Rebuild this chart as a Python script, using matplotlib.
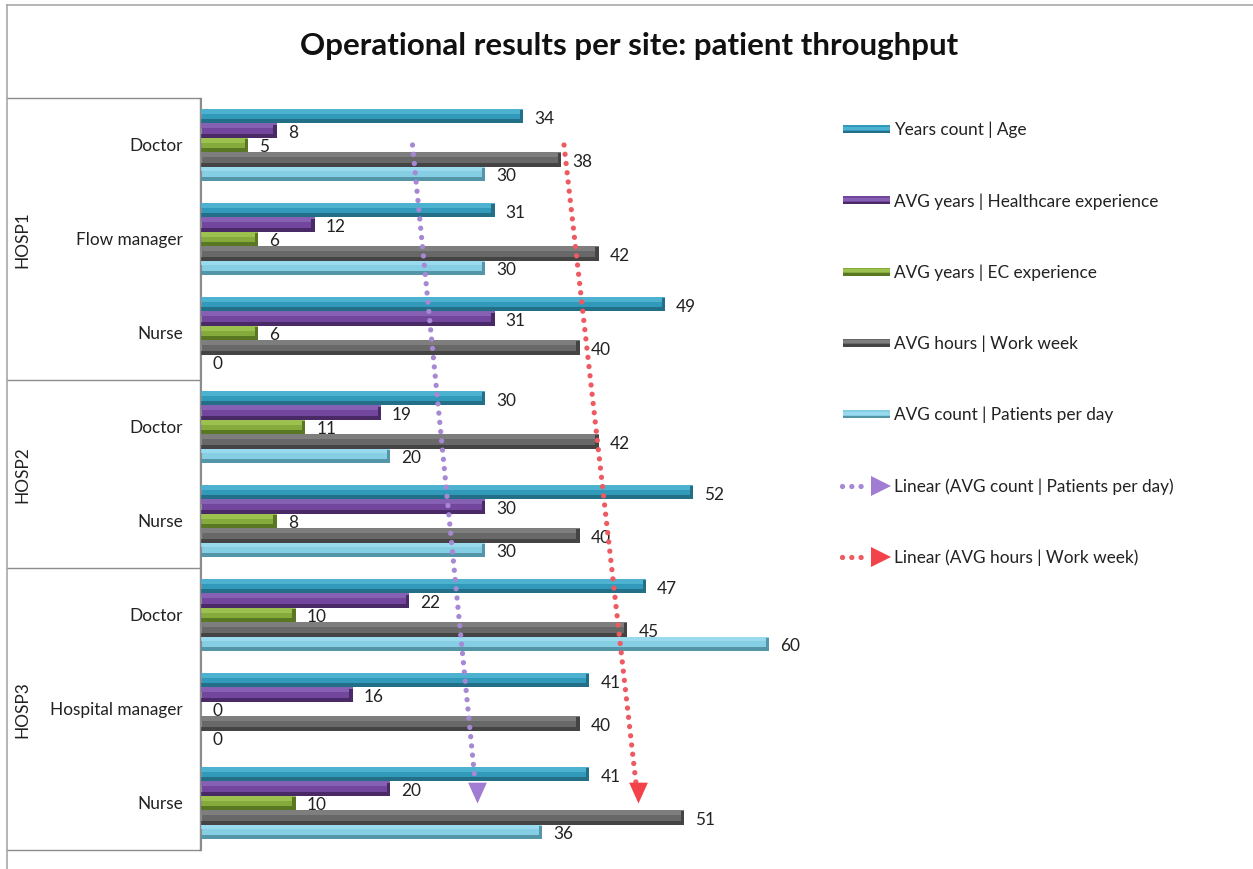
import matplotlib
matplotlib.use("Agg")
import matplotlib.pyplot as plt
import matplotlib.transforms as mtransforms
from matplotlib.lines import Line2D
from matplotlib.patches import Rectangle
import numpy as np

plt.rcParams['font.family'] = ['Lato', 'DejaVu Sans']

# data, top to bottom as in the chart
sites = ["HOSP1", "HOSP1", "HOSP1", "HOSP2", "HOSP2", "HOSP3", "HOSP3", "HOSP3"]
roles = ["Doctor", "Flow manager", "Nurse", "Doctor", "Nurse",
         "Doctor", "Hospital manager", "Nurse"]
age = [34, 31, 49, 30, 52, 47, 41, 41]
healthcare_exp = [8, 12, 31, 19, 30, 22, 16, 20]
ec_exp = [5, 6, 6, 11, 8, 10, 0, 10]
work_week = [38, 42, 40, 42, 40, 45, 40, 51]
patients_day = [30, 30, 0, 20, 30, 60, 0, 36]

series_names = ["Years count | Age", "AVG years | Healthcare experience",
                "AVG years | EC experience", "AVG hours | Work week",
                "AVG count | Patients per day"]
series_vals = [age, healthcare_exp, ec_exp, work_week, patients_day]
# (light, main, dark) per series
series_cols = [("#4cb2d0", "#3199ba", "#226f87"),
               ("#8660b3", "#72469d", "#4a2a66"),
               ("#9cc14f", "#84ab3b", "#5a7823"),
               ("#7e7e7e", "#686868", "#444444"),
               ("#9adaee", "#86cee3", "#5595a8")]
trend_names = ["Linear (AVG count | Patients per day)", "Linear (AVG hours | Work week)"]
trend_cols = [("#a688d4", "#a07cd2"), ("#ee5a62", "#f2434b")]

W, H = 1253, 870
FS = 12.4
fig = plt.figure(figsize=(W / 100, H / 100), dpi=100)
ax = fig.add_axes([201 / W, 1 - 851 / H, 629 / W, (851 - 99) / H])

n = len(roles)
y = np.arange(n)
step = 0.153
bh = 0.153
for k, (vals, (light, main, dark)) in enumerate(zip(series_vals, series_cols)):
    yc = y + (k - 2) * step
    ax.barh(yc, vals, height=bh, color=main, zorder=2)
    ax.barh(yc - bh / 2 + bh * 0.17, vals, height=bh * 0.34, color=light, zorder=3)
    ax.barh(yc + bh / 2 - bh * 0.14, vals, height=bh * 0.28, color=dark, zorder=3)
    for yy, v in zip(yc, vals):
        if v > 0:
            ax.barh(yy, 0.35, left=v - 0.35, height=bh * 0.85, color=dark, zorder=4)
        ax.annotate(str(v), (v, yy), xytext=(8, -1), textcoords="offset points",
                    va="center", ha="left", fontsize=FS, color="#222222")

# linear trendlines (fit over category number, like the spreadsheet)
tip = [(-0.45, 1.0), (0.45, 1.0), (0.0, 0.0), (-0.45, 1.0)]
for vals, (dot_c, head_c) in zip([patients_day, work_week], trend_cols):
    slope, icpt = np.polyfit(y + 1, vals, 1)
    tx = slope * (y + 1) + icpt
    ax.plot(tx[:-1].tolist() + [tx[-1] - slope * 0.22], list(y[:-1]) + [n - 1.22],
            color=dot_c, lw=3.8, linestyle=(0, (0.01, 1.75)),
            dash_capstyle="round", zorder=6)
    ax.plot([tx[-1]], [n - 1], marker=tip, markersize=30, color=head_c,
            markeredgewidth=0, zorder=6)

ax.set_xlim(0, 629 / 9.47)
ax.set_ylim(n - 0.5, -0.5)
ax.set_xticks([])
ax.set_yticks([])
for s in ["top", "right", "bottom"]:
    ax.spines[s].set_visible(False)
ax.spines["left"].set_color("#8c8c8c")

# multi-level category axis
bt = mtransforms.blended_transform_factory(fig.transFigure, ax.transData)
line_c = "#8c8c8c"
for i, r in enumerate(roles):
    fig.text(183 / W, i, r, transform=bt, ha="right", va="center",
             fontsize=FS, color="#222222")
bounds = [-0.5]
for i in range(1, n):
    if sites[i] != sites[i - 1]:
        bounds.append(i - 0.5)
bounds.append(n - 0.5)
for b in bounds:
    fig.add_artist(Line2D([7 / W, 200 / W], [b, b], transform=bt, color=line_c, lw=1))
fig.add_artist(Line2D([200 / W, 200 / W], [-0.5, n - 0.5], transform=bt, color=line_c, lw=1))
for b0, b1 in zip(bounds[:-1], bounds[1:]):
    fig.text(22 / W, (b0 + b1) / 2, sites[int(b0 + 0.5)], transform=bt,
             rotation=90, ha="center", va="center", fontsize=FS, color="#222222")

# chart frame
fig.add_artist(Line2D([7 / W, 1], [1 - 6 / H, 1 - 6 / H], color="#a8a8a8", lw=1.2))
fig.add_artist(Line2D([7 / W, 7 / W], [0, 1 - 6 / H], color="#a8a8a8", lw=1.2))

fig.text(629 / W, 1 - 46 / H, "Operational results per site: patient throughput",
         ha="center", va="center", fontsize=22.5, fontweight="bold", color="#111111")

# legend
row_y = [130 + 71.3 * i for i in range(7)]
for i, (name, (light, main, dark)) in enumerate(zip(series_names, series_cols)):
    yy = row_y[i]
    fig.add_artist(Rectangle((843 / W, 1 - (yy + 4) / H), 47 / W, 8 / H,
                             facecolor=main, edgecolor="none"))
    fig.add_artist(Rectangle((843 / W, 1 - (yy + 0.5) / H), 47 / W, 3 / H,
                             facecolor=light, edgecolor="none"))
    fig.add_artist(Rectangle((843 / W, 1 - (yy + 4) / H), 47 / W, 2.5 / H,
                             facecolor=dark, edgecolor="none"))
    fig.text(894 / W, 1 - yy / H, name, ha="left", va="center",
             fontsize=FS, color="#222222")
for j, (name, (dot_c, head_c)) in enumerate(zip(trend_names, trend_cols)):
    yy = row_y[5 + j]
    fig.add_artist(Line2D([842 / W, 868 / W], [1 - yy / H, 1 - yy / H], color=dot_c,
                          lw=3.8, linestyle=(0, (0.01, 1.75)), dash_capstyle="round"))
    fig.add_artist(Line2D([881 / W], [1 - yy / H], marker=">", markersize=14,
                          color=head_c, markeredgewidth=0))
    fig.text(894 / W, 1 - yy / H, name, ha="left", va="center",
             fontsize=FS, color="#222222")

fig.savefig("out.png", dpi=100)
